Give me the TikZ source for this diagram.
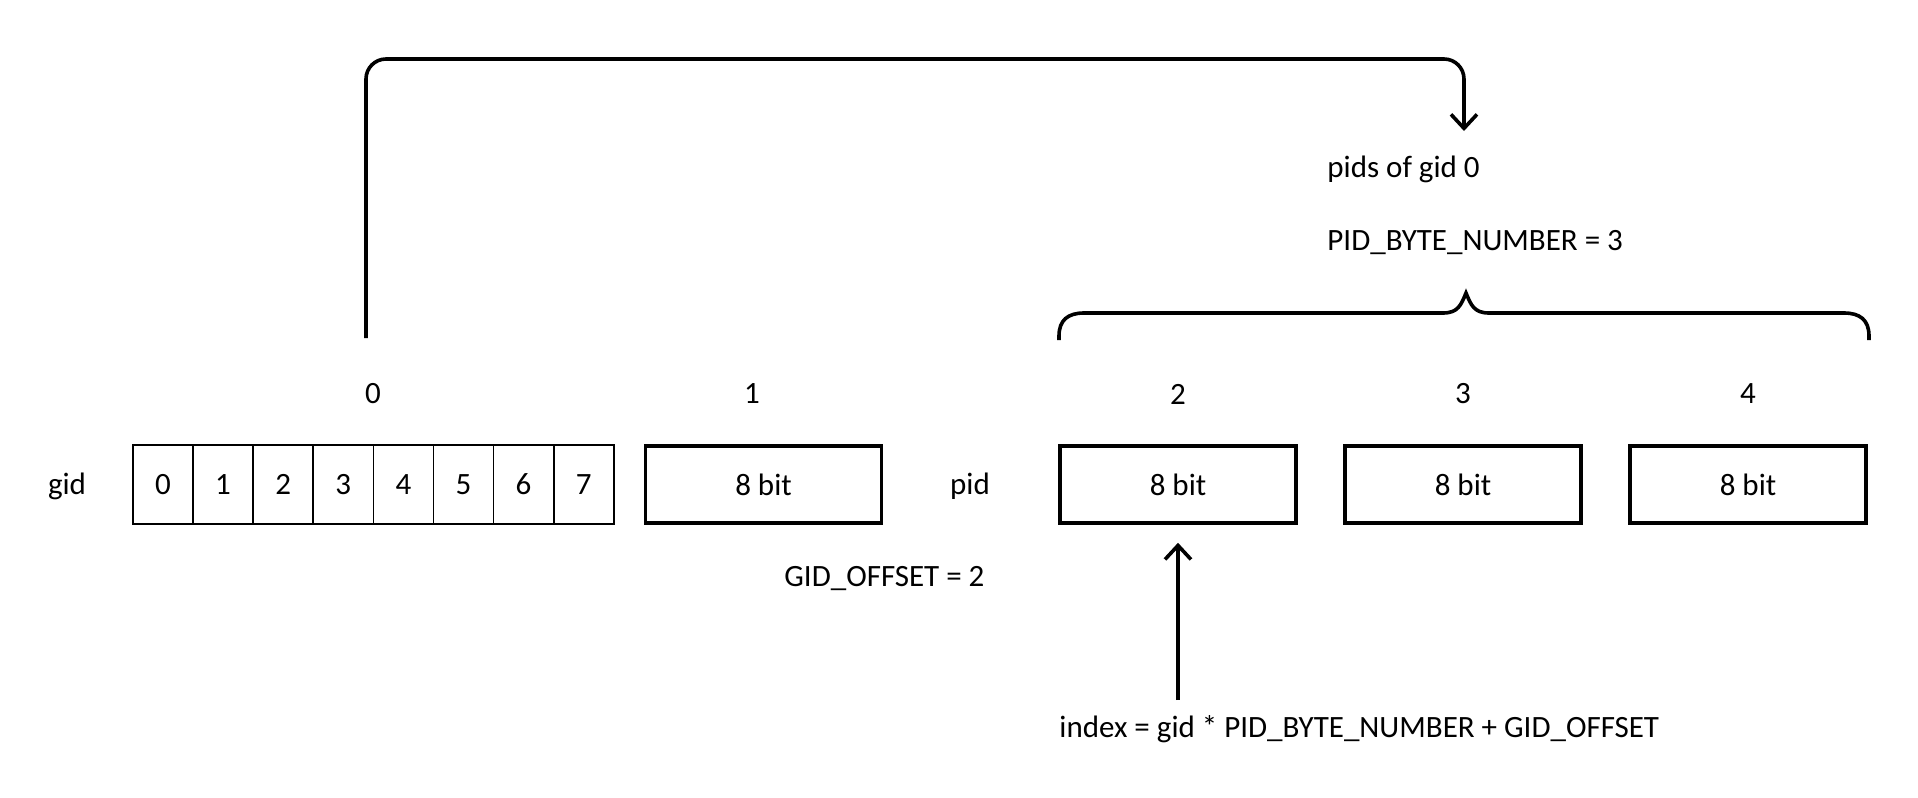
\documentclass[tikz,border=0pt]{standalone}
\usepackage{fontspec}
\setmainfont{Carlito}
\usetikzlibrary{arrows.meta}

\begin{document}
\begin{tikzpicture}[x=0.5pt,y=-0.5pt,font=\fontsize{15.5}{18}\selectfont,
  cell/.style={draw,line width=0.8pt,minimum width=30pt,minimum height=39.5pt,inner sep=0pt},
  byte/.style={draw,line width=1.8pt,minimum width=118pt,minimum height=38.5pt,inner sep=0pt},
  txt/.style={anchor=west,inner sep=0pt},
  arr/.style={line width=1.8pt,-{Straight Barb[length=7pt,width=13pt]}}]
  \useasboundingbox (0,0) rectangle (1918,798);

  % gid bitmap
  \node (gid) at (67,486) {gid};
  \foreach \i in {0,...,7}
    \node[cell] (g\i) at ({163+60.1*\i},484.5) {\i};
  \node (n0) at (373,394) {0};

  \node[byte] (b1) at (763.5,484.5) {8 bit};
  \node (n1) at (752,394) {1};
  \node[txt] (goff) at (784,579) {GID\_OFFSET = 2};

  % pid bytes
  \node (pid) at (970,486) {pid};
  \node[byte] (b2) at (1178,484.5) {8 bit};
  \node[byte] (b3) at (1463,484.5) {8 bit};
  \node[byte] (b4) at (1748,484.5) {8 bit};
  \node (n2) at (1178,394) {2};
  \node (n3) at (1463,394) {3};
  \node (n4) at (1748,394) {4};

  \node[txt] (pids) at (1327,169) {pids of gid 0};
  \node[txt] (pbn) at (1327,243) {PID\_BYTE\_NUMBER = 3};
  \node[txt] (idx) at (1059,729) {index = gid * PID\_BYTE\_NUMBER + GID\_OFFSET};

  % brace over pid bytes
  \draw[line width=1.8pt] (1059,340) -- (1059,336) .. controls (1059,320) and (1068,313) .. (1084,313)
    -- (1443,313) .. controls (1458,313) and (1461,305) .. (1466,293)
    .. controls (1471,305) and (1474,313) .. (1489,313)
    -- (1844,313) .. controls (1860,313) and (1869,320) .. (1869,336) -- (1869,340);

  % connectors
  \coordinate (from) at (366,338);
  \coordinate (into) at (1464,131);
  \draw[arr,rounded corners=10pt] (from) -- (366,59) -- (1464,59) -- (into);
  \coordinate (up) at (1178,700);
  \draw[arr,shorten >=9pt] (up) -- (b2.south);
\end{tikzpicture}
\end{document}
